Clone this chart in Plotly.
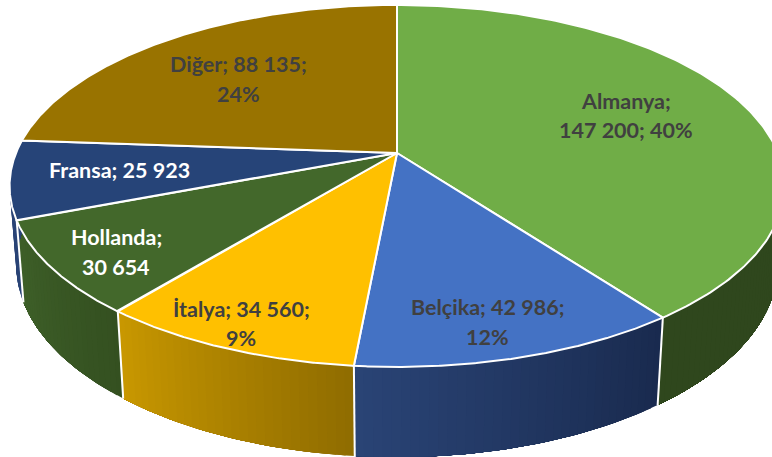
import numpy as np
import plotly.graph_objects as go

# --- data ---
categories = ["Almanya", "Belçika", "İtalya", "Hollanda", "Fransa", "Diğer"]
values = [147200, 42986, 34560, 30654, 25923, 88135]
label_lines = [
    ["Almanya;", "147 200; 40%"],
    ["Belçika; 42 986;", "12%"],
    ["İtalya; 34 560;", "9%"],
    ["Hollanda;", "30 654"],
    ["Fransa; 25 923"],
    ["Diğer; 88 135;", "24%"],
]

# --- styles ---
top_colors = ["#70AD47", "#4472C4", "#FFC000", "#43682B", "#264478", "#997300"]
wall_from = ["#2F471D", "#192A4E", "#8F6C00", "#345020", "#2A4476", "#5C4500"]
wall_to = ["#2F471D", "#2A4476", "#C99800", "#3E6029", "#2A4476", "#5C4500"]
text_colors = ["#404040", "#404040", "#404040", "#FFFFFF", "#FFFFFF", "#404040"]
label_centers = [(626, 115.5), (487.5, 322), (241, 323.5), (116, 252), (119, 170), (238, 79)]
LINE_GAP = 29.5

# --- perspective projection of the disc (z = 0 top face, z = 1 bottom face) ---
X0, Y0, A, B, K = 397.0, 153.0, 381.0, 175.0, 0.182
M, C = 0.017, 79.0


def rim(theta, bottom=False):
    u, v = np.sin(theta), np.cos(theta)
    z = 1.0 if bottom else 0.0
    d = 1 + K * v + M * z
    return X0 + A * u / d, Y0 + (-B * v + C * z) / d


def hex2rgb(h):
    return np.array([int(h[i:i + 2], 16) for i in (1, 3, 5)], float)


def mix(a, b, t):
    c = hex2rgb(a) * (1 - t) + hex2rgb(b) * t
    return "rgb(%d,%d,%d)" % tuple(c.round())


total = sum(values)
edges = 2 * np.pi * np.concatenate([[0], np.cumsum(values)]) / total

fig = go.Figure()

# walls: overlapping shaded bands, each painted over the rest of its slice
for i in range(len(values)):
    t0, t1 = edges[i], edges[i + 1]
    lo, hi = max(t0, np.pi * 0.42), min(t1, np.pi * 1.56)
    if hi <= lo:
        continue
    n = max(2, int((hi - lo) / 0.02))
    cuts = np.linspace(lo, hi, n + 1)
    for a, b in zip(cuts[:-1], cuts[1:]):
        th = np.linspace(a, hi, 60)
        xt, yt = rim(th)
        xb, yb = rim(th, True)
        col = mix(wall_from[i], wall_to[i], ((a + b) / 2 - t0) / (t1 - t0))
        fig.add_trace(go.Scatter(
            x=np.concatenate([xt, xb[::-1], xt[:1]]), y=np.concatenate([yt, yb[::-1], yt[:1]]),
            mode="lines", fill="toself", fillcolor=col, line=dict(width=0),
            hoverinfo="skip", showlegend=False))

# white seams on the wall
for e in edges[1:-1]:
    if np.cos(e) < 0:
        xt, yt = rim(e)
        xb, yb = rim(e, True)
        fig.add_trace(go.Scatter(x=[xt, xb], y=[yt, yb], mode="lines",
                                 line=dict(color="white", width=2),
                                 hoverinfo="skip", showlegend=False))

# top face
for i, name in enumerate(categories):
    th = np.linspace(edges[i], edges[i + 1], 200)
    xr, yr = rim(th)
    fig.add_trace(go.Scatter(
        x=np.concatenate([[X0], xr, [X0]]), y=np.concatenate([[Y0], yr, [Y0]]),
        mode="lines", fill="toself", fillcolor=top_colors[i],
        line=dict(color="white", width=2), name=name,
        hoverinfo="skip", showlegend=False))

annotations = []
for lines, (cx, cy), col in zip(label_lines, label_centers, text_colors):
    start = cy - LINE_GAP * (len(lines) - 1) / 2
    for j, line in enumerate(lines):
        annotations.append(dict(x=cx, y=start + j * LINE_GAP, text=line, showarrow=False,
                                xanchor="center", yanchor="middle",
                                font=dict(family="Lato", size=21.5, color=col, weight="bold")))

fig.update_layout(
    width=772, height=457, margin=dict(l=0, r=0, t=0, b=0),
    paper_bgcolor="white", plot_bgcolor="white",
    xaxis=dict(range=[0, 772], visible=False, fixedrange=True),
    yaxis=dict(range=[457, 0], visible=False, fixedrange=True),
    annotations=annotations, showlegend=False,
)
fig.write_html("out.html", config={"displayModeBar": False},
               post_script="document.body.style.margin='0';")
